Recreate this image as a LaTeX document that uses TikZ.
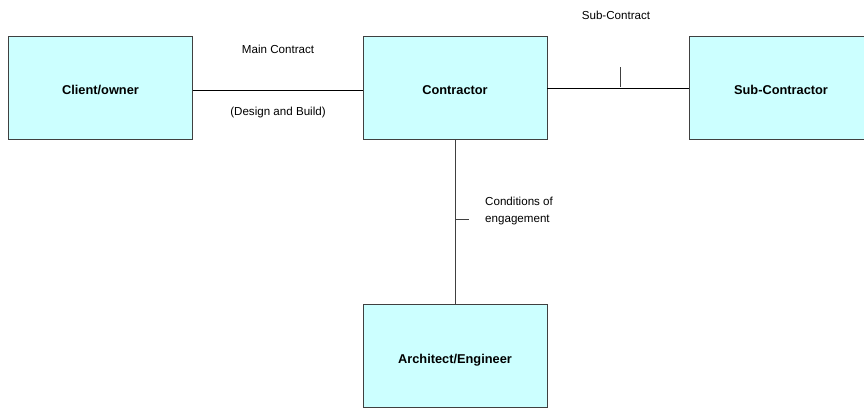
\documentclass[tikz,border=0pt]{standalone}
\usepackage{fontspec}
\setmainfont{Liberation Sans}
\definecolor{boxfill}{HTML}{CCFFFF}
\definecolor{boxline}{HTML}{404040}
\begin{document}
\begin{tikzpicture}[x=1pt,y=-1pt,
  party/.style={draw=boxline,line width=0.9pt,fill=boxfill,minimum width=184pt,minimum height=103pt,inner sep=0pt,text height=14pt,text depth=0pt,font=\fontsize{12.8}{15}\selectfont\bfseries},
  lab/.style={font=\fontsize{11.6}{17}\selectfont,inner sep=0pt},
  link/.style={line width=0.8pt,black},
  tick/.style={line width=0.8pt,boxline}]
\clip (0,0) rectangle (864,407);
\fill[white] (0,0) rectangle (864,407);
\node[party] (client) at (100.5,87.5) {Client/owner};
\node[party] (contractor) at (455,87.5) {Contractor};
\node[party] (sub) at (781,87.5) {Sub-Contractor};
\node[party] (arch) at (455,356) {Architect/Engineer};
\draw[link] ([yshift=-2.5pt]client.east) -- ([yshift=-2.5pt]contractor.west);
\draw[link] ([yshift=-0.5pt]contractor.east) -- ([yshift=-0.5pt]sub.west);
\draw[tick] (455,139) -- (arch.north);
\coordinate (subtick) at (620,87);
\coordinate (subtop) at (620,67);
\draw[tick] (subtick) -- (subtop);
\coordinate (condtick) at (455,219);
\coordinate (condend) at (469,219);
\draw[tick] (condtick) -- (condend);
\node[lab] (maincontract) at (278,49.5) {Main Contract};
\node[lab] (designbuild) at (278,112.5) {(Design and Build)};
\node[lab] (subcontract) at (616,15) {Sub-Contract};
\node[lab,align=left,anchor=west] (conditions) at (485,210.5) {Conditions of\\engagement};
\end{tikzpicture}
\end{document}
